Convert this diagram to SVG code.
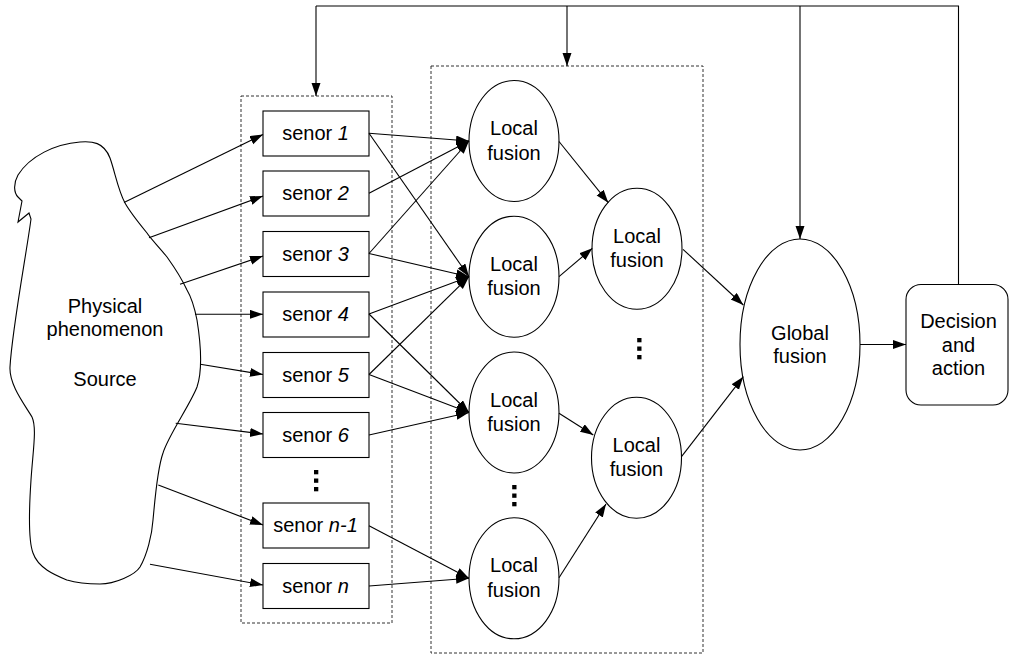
<svg xmlns="http://www.w3.org/2000/svg" width="1009" height="657" viewBox="0 0 1009 657">
<defs>
<marker id="ah" markerUnits="userSpaceOnUse" markerWidth="14" markerHeight="10" refX="13" refY="4.5" orient="auto">
<path d="M0,0 L13,4.5 L0,9 z" fill="#000"/>
</marker>
<style>
.t{font-family:"Liberation Sans",Arial,sans-serif;font-size:20px;fill:#000;text-anchor:middle}
.i{font-style:italic}
.n{fill:#fff;stroke:#000;stroke-width:1.1}
.c{fill:none;stroke:#000;stroke-width:1.1;marker-end:url(#ah)}
.p{fill:none;stroke:#000;stroke-width:1.1}
.d{fill:none;stroke:#333;stroke-width:1;stroke-dasharray:3,2}
</style>
</defs>
<rect width="1009" height="657" fill="#fff"/>

<g id="groups">
<rect class="d" x="241" y="96" width="151" height="527"/>
<rect class="d" x="431" y="66" width="272" height="587"/>
</g>

<g id="source">
<path class="n" d="M125,203 C118,190 115,172 110,158 C104,142 92,141 80,142 C55,144 30,156 18,175 C13,184 14,193 18,197 L22,201 L18,222 L29,213 L31,219 C27,250 12,330 10,367 C9,385 25,405 32,417 C37,428 33,450 31,480 C29,510 28,540 33,553 C38,568 55,575 67,580 C80,584 90,584 100,584 C115,584 135,575 140,567 C147,555 152,535 153,520 C155,500 157,470 163,453 C168,436 190,405 197,387 C202,372 201,345 197,320 C194,305 190,295 187,290 C180,275 172,264 167,257 C160,248 150,238 147,233 C138,222 130,212 125,203 Z"/>
<text class="t" x="105" y="313">Physical</text>
<text class="t" x="105" y="336">phenomenon</text>
<text class="t" x="105" y="386">Source</text>
</g>

<g id="s1"><rect class="n" x="263" y="111" width="106" height="45"/><text class="t" x="315.5" y="140">senor <tspan class="i">1</tspan></text></g>
<g id="s2"><rect class="n" x="263" y="171" width="106" height="45"/><text class="t" x="315.5" y="200">senor <tspan class="i">2</tspan></text></g>
<g id="s3"><rect class="n" x="263" y="231.5" width="106" height="45"/><text class="t" x="315.5" y="260.5">senor <tspan class="i">3</tspan></text></g>
<g id="s4"><rect class="n" x="263" y="292" width="106" height="45"/><text class="t" x="315.5" y="321">senor <tspan class="i">4</tspan></text></g>
<g id="s5"><rect class="n" x="263" y="352.5" width="106" height="45"/><text class="t" x="315.5" y="381.5">senor <tspan class="i">5</tspan></text></g>
<g id="s6"><rect class="n" x="263" y="412.5" width="106" height="45"/><text class="t" x="315.5" y="441.5">senor <tspan class="i">6</tspan></text></g>
<g id="sdots"><rect x="314" y="470" width="4.3" height="4.3"/><rect x="314" y="478.5" width="4.3" height="4.3"/><rect x="314" y="487" width="4.3" height="4.3"/></g>
<g id="sn1"><rect class="n" x="263" y="503" width="106" height="45"/><text class="t" x="315.5" y="532">senor <tspan class="i">n-1</tspan></text></g>
<g id="sn"><rect class="n" x="263" y="563.5" width="106" height="45"/><text class="t" x="315.5" y="592.5">senor <tspan class="i">n</tspan></text></g>

<g id="lf1"><ellipse class="n" cx="514" cy="141" rx="45" ry="60.5"/><text class="t" x="514" y="135">Local</text><text class="t" x="514" y="159.5">fusion</text></g>
<g id="lf2"><ellipse class="n" cx="514" cy="276.7" rx="45" ry="60.5"/><text class="t" x="514" y="270.7">Local</text><text class="t" x="514" y="295.2">fusion</text></g>
<g id="lf3"><ellipse class="n" cx="514" cy="412.5" rx="45" ry="60.5"/><text class="t" x="514" y="406.5">Local</text><text class="t" x="514" y="431">fusion</text></g>
<g id="lfdots"><rect x="512.2" y="485" width="4.3" height="4.3"/><rect x="512.2" y="493.5" width="4.3" height="4.3"/><rect x="512.2" y="502" width="4.3" height="4.3"/></g>
<g id="lf4"><ellipse class="n" cx="514" cy="578.3" rx="45" ry="60.5"/><text class="t" x="514" y="572.3">Local</text><text class="t" x="514" y="596.8">fusion</text></g>

<g id="lf5"><ellipse class="n" cx="637" cy="248.7" rx="45" ry="60.5"/><text class="t" x="637" y="242.7">Local</text><text class="t" x="637" y="267.2">fusion</text></g>
<g id="lf2dots"><rect x="637.2" y="338" width="4.3" height="4.3"/><rect x="637.2" y="346.5" width="4.3" height="4.3"/><rect x="637.2" y="355" width="4.3" height="4.3"/></g>
<g id="lf6"><ellipse class="n" cx="636.5" cy="457.8" rx="45" ry="60.5"/><text class="t" x="636.5" y="451.8">Local</text><text class="t" x="636.5" y="476.3">fusion</text></g>

<g id="global"><ellipse class="n" cx="800" cy="344.5" rx="60" ry="105.5"/><text class="t" x="800" y="339.5">Global</text><text class="t" x="800" y="363">fusion</text></g>

<g id="decision"><rect class="n" x="906" y="284.5" width="102" height="120.5" rx="15"/><text class="t" x="958.5" y="327.5">Decision</text><text class="t" x="958.5" y="351.5">and</text><text class="t" x="958.5" y="374.5">action</text></g>

<g id="connectors">
<line class="c" x1="124" y1="202.5" x2="263" y2="134.5"/>
<line class="c" x1="149" y1="237.7" x2="263" y2="196"/>
<line class="c" x1="180" y1="284.3" x2="263" y2="256"/>
<line class="c" x1="195" y1="314.3" x2="263" y2="314.3"/>
<line class="c" x1="200.3" y1="364.3" x2="263" y2="374.5"/>
<line class="c" x1="175.7" y1="423.3" x2="263" y2="434"/>
<line class="c" x1="158.3" y1="485" x2="263" y2="525"/>
<line class="c" x1="150" y1="564.3" x2="263" y2="585"/>

<line class="c" x1="369" y1="133.3" x2="469" y2="141"/>
<line class="c" x1="369" y1="133.3" x2="469" y2="276.7"/>
<line class="c" x1="369" y1="193.3" x2="469" y2="141"/>
<line class="c" x1="369" y1="253.5" x2="469" y2="141"/>
<line class="c" x1="369" y1="253.5" x2="469" y2="276.7"/>
<line class="c" x1="369" y1="314" x2="469" y2="276.7"/>
<line class="c" x1="369" y1="314" x2="469" y2="412.5"/>
<line class="c" x1="369" y1="374.5" x2="469" y2="276.7"/>
<line class="c" x1="369" y1="374.5" x2="469" y2="412.5"/>
<line class="c" x1="369" y1="435" x2="469" y2="412.5"/>
<line class="c" x1="369" y1="525.7" x2="469" y2="578.3"/>
<line class="c" x1="369" y1="586" x2="469" y2="578.3"/>

<line class="c" x1="559" y1="141.5" x2="608.3" y2="202.7"/>
<line class="c" x1="559" y1="276.7" x2="592.3" y2="248.3"/>
<line class="c" x1="559" y1="413.3" x2="593.3" y2="435"/>
<line class="c" x1="559" y1="577.7" x2="606" y2="504"/>

<line class="c" x1="683" y1="249.3" x2="743.3" y2="305"/>
<line class="c" x1="681.5" y1="456.7" x2="743.3" y2="376.7"/>

<line class="c" x1="860" y1="344.5" x2="906" y2="344.5"/>

<polyline class="p" points="958.5,284.5 958.5,6 316,6"/>
<line class="c" x1="316" y1="6" x2="316" y2="96"/>
<line class="c" x1="567" y1="6" x2="567" y2="66"/>
<line class="c" x1="800" y1="6" x2="800" y2="239"/>
</g>
</svg>
